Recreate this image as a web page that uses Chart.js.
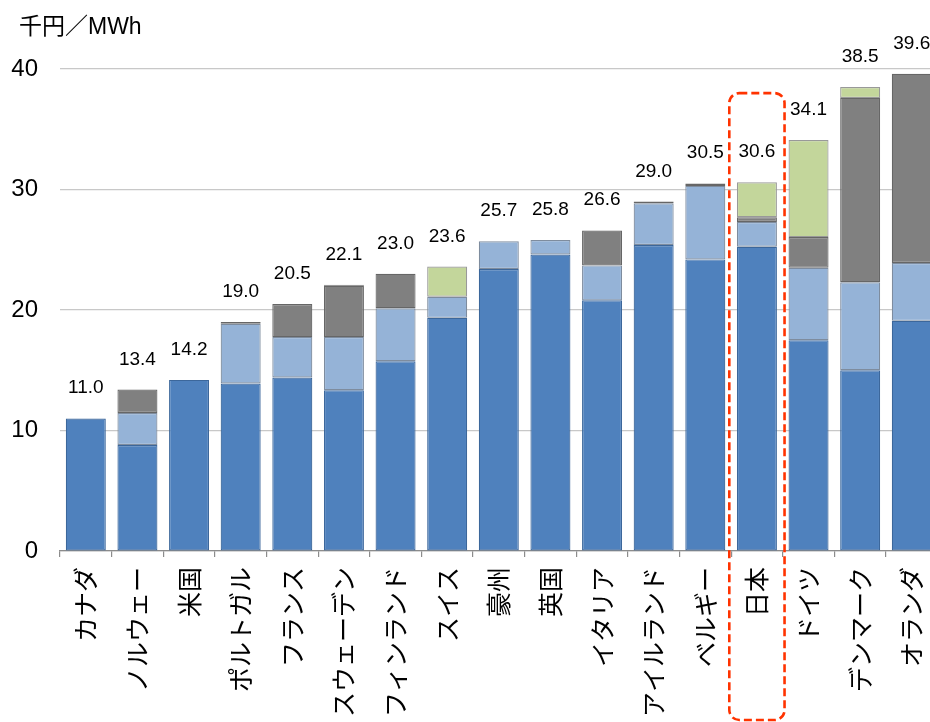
<!DOCTYPE html>
<html>
<head>
<meta charset="utf-8">
<script src="https://cdn.jsdelivr.net/npm/chart.js@4.4.1/dist/chart.umd.min.js"></script>
<style>
  html, body { margin: 0; padding: 0; background: #ffffff; overflow: hidden; }
  #wrap { width: 952px; height: 722px; }
  canvas { display: block; }
</style>
</head>
<body>
<div id="wrap"><canvas id="c" width="952" height="722" style="width:952px;height:722px"></canvas></div>
<script>
// ---- data ----
const categories = ['カナダ','ノルウェー','米国','ポルトガル','フランス','スウェーデン','フィンランド','スイス','豪州','英国','イタリア','アイルランド','ベルギー','日本','ドイツ','デンマーク','オランダ'];
const baseCharge   = [11.0, 8.8, 14.2, 13.9, 14.4, 13.35, 15.75, 19.35, 23.4, 24.6, 20.8, 25.4, 24.2, 25.25, 17.5, 15.0, 19.1];
const valueAddedTax = [0, 2.65, 0, 4.95, 3.35, 4.4, 4.4, 1.75, 2.3, 1.2, 2.9, 3.45, 6.1, 2.05, 6.0, 7.3, 4.8];
const otherTaxes   = [0, 1.95, 0, 0.15, 2.75, 4.25, 2.85, 0, 0, 0, 2.9, 0.15, 0.2, 0.4, 2.55, 15.3, 15.7];
const renewableLevy = [0, 0, 0, 0, 0, 0.1, 0, 2.5, 0, 0, 0, 0, 0, 2.9, 8.05, 0.9, 0];
const totals       = [11.0, 13.4, 14.2, 19.0, 20.5, 22.1, 23.0, 23.6, 25.7, 25.8, 26.6, 29.0, 30.5, 30.6, 34.1, 38.5, 39.6];
const yTicks       = [0, 10, 20, 30, 40];
const unitLabel    = '千円／MWh';
const highlightCategory = '日本';

const FONT = '"Liberation Sans", Arial, "Noto Sans CJK JP", sans-serif';
const CJK = '"Noto Sans CJK JP", "Liberation Sans", sans-serif';

const totalsPlugin = {
  id: 'totals',
  afterDatasetsDraw(chart) {
    const ctx = chart.ctx, xs = chart.scales.x, ys = chart.scales.y;
    ctx.save();
    ctx.fillStyle = '#000';
    ctx.font = '19px ' + FONT;
    ctx.textAlign = 'center';
    ctx.textBaseline = 'alphabetic';
    totals.forEach((t, i) => {
      ctx.fillText(t.toFixed(1), xs.getPixelForValue(i), ys.getPixelForValue(t) - 25);
    });
    ctx.restore();
  }
};

const decorPlugin = {
  id: 'decor',
  afterDraw(chart) {
    const ctx = chart.ctx, xs = chart.scales.x, ys = chart.scales.y;
    ctx.save();
    // unit label
    ctx.fillStyle = '#000';
    ctx.font = '23px ' + FONT;
    ctx.textAlign = 'left';
    ctx.textBaseline = 'alphabetic';
    ctx.fillText(unitLabel, 19, 34);
    // highlight box
    const idx = categories.indexOf(highlightCategory);
    const cx = xs.getPixelForValue(idx);
    const half = (xs.getPixelForValue(1) - xs.getPixelForValue(0)) * 0.535;
    const x0 = cx - half, x1 = cx + half;
    const y0 = ys.getPixelForValue(38.0), y1 = chart.height - 2;
    const r = 10;
    ctx.strokeStyle = '#FF3300';
    ctx.lineWidth = 2.6;
    ctx.setLineDash([8, 4]);
    ctx.beginPath();
    ctx.moveTo(x0 + r, y0);
    ctx.lineTo(x1 - r, y0);
    ctx.arcTo(x1, y0, x1, y0 + r, r);
    ctx.lineTo(x1, y1 - r);
    ctx.arcTo(x1, y1, x1 - r, y1, r);
    ctx.lineTo(x0 + r, y1);
    ctx.arcTo(x0, y1, x0, y1 - r, r);
    ctx.lineTo(x0, y0 + r);
    ctx.arcTo(x0, y0, x0 + r, y0, r);
    ctx.closePath();
    ctx.stroke();
    ctx.restore();
  }
};

function ds(label, data, bg, border) {
  return { label, data, backgroundColor: bg, borderColor: border, borderWidth: 1.2, borderSkipped: false,
           categoryPercentage: 1.0, barPercentage: 0.775, stack: 's' };
}

new Chart(document.getElementById('c'), {
  type: 'bar',
  data: {
    labels: categories,
    datasets: [
      ds('料金本体', baseCharge, '#4F81BD', '#3C679B'),
      ds('付加価値税', valueAddedTax, '#95B3D7', '#7E8C9E'),
      ds('その他税', otherTaxes, '#808080', '#666666'),
      ds('再エネ賦課金', renewableLevy, '#C3D69B', '#999999')
    ]
  },
  options: {
    responsive: false,
    animation: false,
    devicePixelRatio: 1,
    layout: { padding: { left: 0, right: 7, top: 69, bottom: 0 } },
    plugins: { legend: { display: false }, tooltip: { enabled: false }, title: { display: false } },
    scales: {
      x: {
        stacked: true,
        offset: true,
        grid: { display: true, offset: true, drawOnChartArea: false, drawTicks: true, tickLength: 6, color: '#8C8C8C', lineWidth: 1.2 },
        border: { display: true, color: '#8C8C8C', width: 1.2 },
        ticks: { maxRotation: 90, minRotation: 90, autoSkip: false, padding: 10, color: '#000', font: { family: CJK, size: 25 } },
        afterFit(s) { s.height = 171; }
      },
      y: {
        stacked: true,
        min: 0, max: 40,
        afterBuildTicks(s) { s.ticks = yTicks.map(v => ({ value: v })); },
        grid: { display: true, drawTicks: false, color: '#C8C8C8', lineWidth: 1.2 },
        border: { display: false },
        ticks: { padding: 22, color: '#000', font: { family: FONT, size: 24 } },
        afterFit(s) { s.width = 60; }
      }
    }
  },
  plugins: [totalsPlugin, decorPlugin]
});
</script>
</body>
</html>
